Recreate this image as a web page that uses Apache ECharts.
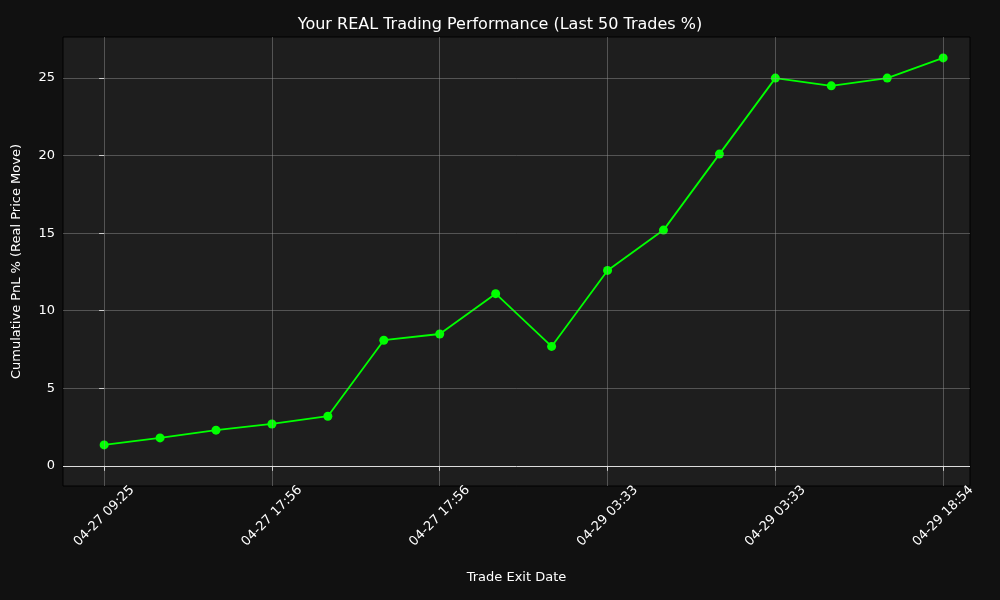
<!DOCTYPE html>
<html><head><meta charset="utf-8">
<script src="https://cdn.jsdelivr.net/npm/echarts@6/dist/echarts.min.js"></script>
<style>html,body{margin:0;background:#111111}#c{width:1000px;height:600px}</style>
</head><body><div id="c"></div>
<script>
const pnl = [1.35, 1.8, 2.3, 2.7, 3.2, 8.1, 8.5, 11.1, 7.7, 12.6, 15.2, 20.1, 25.0, 24.5, 25.0, 26.3];
const tickIdx = [0, 3, 6, 9, 12, 15];
const tickLabels = ['04-27 09:25', '04-27 17:56', '04-27 17:56', '04-29 03:33', '04-29 03:33', '04-29 18:54'];
const yTicks = [0, 5, 10, 15, 20, 25];

const chart = echarts.init(document.getElementById('c'));
const font = 'DejaVu Sans';
chart.setOption({
  backgroundColor: '#111111',
  animation: false,
  title: { text: 'Your REAL Trading Performance (Last 50 Trades %)', left: 'center', top: 12,
    textStyle: { color: '#ffffff', fontSize: 16, fontWeight: 'normal', fontFamily: font } },
  grid: { left: 63, right: 30, top: 37, bottom: 114, show: true, backgroundColor: '#1e1e1e', borderColor: '#000', borderWidth: 1 },
  xAxis: {
    type: 'value', min: -0.735, max: 15.48,
    name: 'Trade Exit Date', nameLocation: 'middle', nameGap: 85,
    nameTextStyle: { color: '#fff', fontSize: 13, fontFamily: font },
    axisLine: { show: false },
    axisTick: { show: true, customValues: tickIdx, lineStyle: { color: '#fff' }, length: 5 },
    axisLabel: { customValues: tickIdx, rotate: 45, align: 'center', verticalAlign: 'middle',
      color: '#fff', fontSize: 13, fontFamily: font, margin: 30,
      formatter: v => tickLabels[tickIdx.indexOf(Math.round(v))] || '' },
    splitLine: { show: false }
  },
  yAxis: {
    type: 'value', min: -1.3, max: 27.65,
    name: 'Cumulative PnL % (Real Price Move)', nameLocation: 'middle', nameGap: 40,
    nameTextStyle: { color: '#fff', fontSize: 13, fontFamily: font },
    axisLine: { show: false },
    axisTick: { show: true, customValues: yTicks, lineStyle: { color: '#fff' }, length: 5 },
    axisLabel: { customValues: yTicks, color: '#fff', fontSize: 13, fontFamily: font },
    splitLine: { show: false }
  },
  series: [
    { type: 'line', data: [], silent: true,
      markLine: { symbol: 'none', silent: true, label: { show: false },
        lineStyle: { color: 'rgba(150,150,150,0.45)', type: 'solid', width: 1 },
        data: tickIdx.map(i => ({ xAxis: i })).concat(yTicks.slice(1).map(v => ({ yAxis: v }))) } },
    { type: 'line', data: [], silent: true,
      markLine: { symbol: 'none', silent: true, label: { show: false },
        lineStyle: { color: '#dddddd', type: 'solid', width: 1 }, data: [{ yAxis: 0 }] } },
    { type: 'line', data: pnl.map((v, i) => [i, v]), symbol: 'circle', symbolSize: 9,
      lineStyle: { color: '#00ff00', width: 1.8 }, itemStyle: { color: '#00ff00' } }
  ]
});
</script></body></html>
